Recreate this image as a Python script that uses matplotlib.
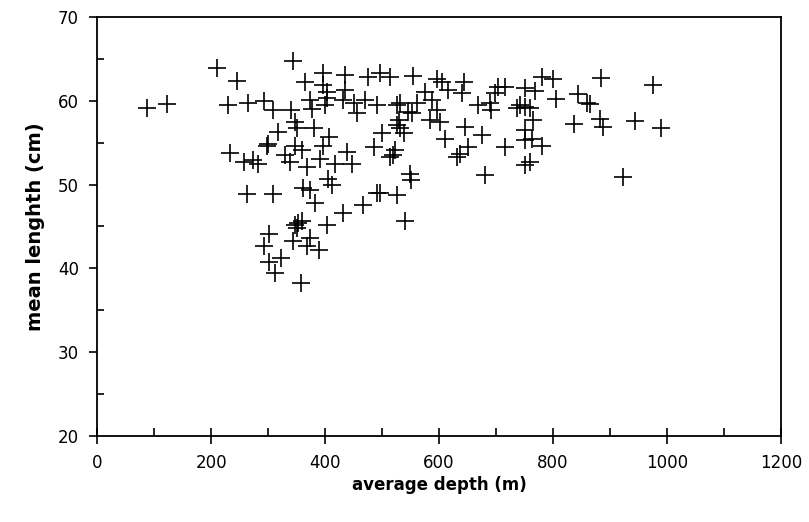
import matplotlib
matplotlib.use("Agg")
import matplotlib.pyplot as plt
import numpy as np
from matplotlib.ticker import MultipleLocator

# average depth (m) and mean length (cm)
depth = [
    87, 122,
    210, 245, 344, 365, 397, 435, 476, 496, 514, 555, 596, 605, 643, 780, 800, 884, 975,
    396, 403, 403, 435, 575, 616, 640, 704, 716, 698, 751, 768, 806, 844, 587, 374, 432,
    470, 292, 265,
    230, 309, 341, 377, 400, 450, 456, 491, 526, 532, 561, 546, 552, 596, 669, 689, 692,
    736, 742, 751, 760, 859, 864,
    347, 350, 318, 380, 407, 500, 526, 529, 532, 538, 584, 602, 646, 675, 611, 751, 765,
    836, 882, 887, 944, 989, 751, 763,
    298, 347, 397, 485, 233, 257, 274, 283, 330, 359, 339, 368, 391, 418, 438, 447, 514,
    523, 520, 780, 716, 651, 637, 631, 751, 760, 300,
    406, 412, 549, 550, 681, 922, 263, 308, 362, 374, 491, 496, 526,
    382, 432, 466, 347, 352, 359, 350, 403, 302, 540, 293, 343, 373, 368, 390, 322, 302,
    312, 357,
]
length = [
    59.2, 59.6,
    63.9, 62.4, 64.7, 62.3, 63.3, 63.1, 62.9, 63.3, 62.8, 63.0, 62.6, 62.2, 62.3, 62.8, 62.6, 62.7, 61.9,
    61.9, 61.1, 60.3, 61.3, 61.1, 61.3, 60.9, 61.7, 61.7, 60.9, 61.5, 61.2, 60.2, 60.8, 60.1, 60.1, 60.1,
    60.1, 60.0, 59.7,
    59.5, 58.9, 58.9, 59.0, 59.5, 59.7, 58.6, 59.5, 59.5, 59.7, 59.7, 58.7, 58.5, 58.9, 59.5, 59.7, 58.9,
    59.1, 59.5, 59.3, 59.1, 59.7, 59.6,
    57.5, 56.7, 56.3, 56.8, 55.7, 56.1, 57.1, 57.7, 56.7, 56.1, 57.7, 57.5, 56.9, 55.9, 55.5, 56.5, 57.7,
    57.2, 57.8, 56.9, 57.6, 56.8, 55.3, 55.5,
    54.6, 54.6, 54.6, 54.5, 53.8, 52.7, 52.9, 52.4, 53.5, 54.1, 52.7, 52.1, 53.1, 52.5, 53.9, 52.5, 53.3,
    54.1, 53.5, 54.6, 54.5, 54.5, 53.7, 53.3, 52.3, 52.7, 54.9,
    50.7, 49.9, 51.3, 50.5, 51.1, 50.9, 48.9, 48.9, 49.6, 49.4, 49.0, 49.0, 48.7,
    47.8, 46.6, 47.6, 45.2, 45.4, 45.6, 44.8, 45.2, 44.1, 45.6, 42.7, 43.3, 43.6, 42.7, 42.2, 41.2, 40.8,
    39.4, 38.3,
]

x_ticks = np.arange(0, 1201, 200)
y_ticks = np.arange(20, 71, 10)

plt.rcParams["font.family"] = ["DejaVu Sans"]

fig = plt.figure(figsize=(8.09, 5.22), dpi=100)
ax = fig.add_axes([0.12, 0.1648, 0.8454, 0.8026])

ax.scatter(depth, length, marker="+", s=150, c="black", linewidths=1.2)

ax.set_xlim(0, 1200)
ax.set_ylim(20, 70)
ax.set_xticks(x_ticks)
ax.set_yticks(y_ticks)
ax.xaxis.set_minor_locator(MultipleLocator(100))
ax.yaxis.set_minor_locator(MultipleLocator(5))

ax.tick_params(axis="x", which="major", direction="inout", length=12, width=1.2,
               pad=7, labelsize=12)
ax.tick_params(axis="x", which="minor", direction="in", length=6, width=1.2)
ax.tick_params(axis="y", which="major", direction="out", length=6, width=1.2,
               pad=7, labelsize=12)
ax.tick_params(axis="y", which="minor", direction="in", length=5, width=1.2)

for sp in ax.spines.values():
    sp.set_linewidth(1.3)

ax.set_xlabel("average depth (m)", fontsize=12, fontweight="bold", labelpad=3)
ax.set_ylabel("mean lenghth (cm)", fontsize=14, fontweight="bold", labelpad=9)

fig.savefig("out.png", dpi=100)
